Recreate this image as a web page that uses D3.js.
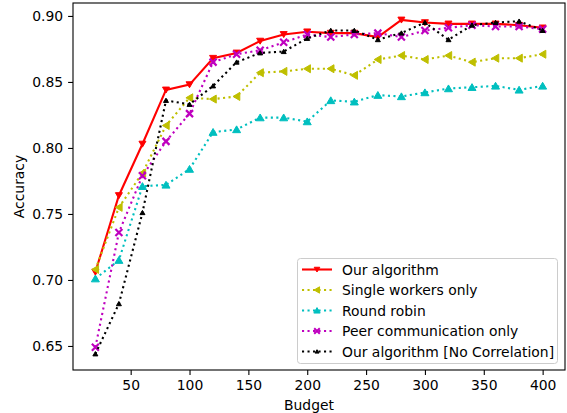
<!DOCTYPE html>
<html><head><meta charset="utf-8">
<script src="https://cdn.jsdelivr.net/npm/d3@7"></script>
<style>body{margin:0;background:#fff}svg{display:block}text{font-family:"DejaVu Sans",sans-serif}</style>
</head><body><svg id="c" width="567" height="413"></svg>
<script>
const budgets = [20,40,60,80,100,120,140,160,180,200,220,240,260,280,300,320,340,360,380,400];
const ourAlgorithm = [0.706,0.764,0.803,0.844,0.848,0.868,0.872,0.881,0.886,0.888,0.887,0.887,0.884,0.897,0.895,0.894,0.894,0.894,0.893,0.891];
const singleWorkers = [0.708,0.755,0.781,0.817,0.838,0.837,0.839,0.857,0.858,0.860,0.860,0.855,0.867,0.870,0.867,0.870,0.865,0.868,0.868,0.871];
const roundRobin = [0.701,0.715,0.771,0.772,0.784,0.812,0.814,0.823,0.823,0.820,0.836,0.835,0.840,0.839,0.842,0.845,0.846,0.847,0.844,0.847];
const peerComm = [0.649,0.736,0.779,0.805,0.826,0.865,0.871,0.874,0.880,0.886,0.884,0.886,0.887,0.884,0.889,0.891,0.893,0.892,0.892,0.890];
const noCorrelation = [0.644,0.682,0.751,0.836,0.833,0.847,0.865,0.872,0.873,0.883,0.889,0.889,0.882,0.887,0.895,0.882,0.893,0.895,0.896,0.889];
const seriesNames = ["Our algorithm","Single workers only","Round robin","Peer communication only","Our algorithm [No Correlation]"];
const xTicks = [50,100,150,200,250,300,350,400];
const yTicks = [0.65,0.70,0.75,0.80,0.85,0.90];

const series = [
  {name:seriesNames[0], values:ourAlgorithm, color:"#ff0000", dash:null, marker:"v", size:7},
  {name:seriesNames[1], values:singleWorkers, color:"#bfbf00", dash:"2.1,3.4", marker:"<", size:8},
  {name:seriesNames[2], values:roundRobin, color:"#00bfbf", dash:"2.1,3.4", marker:"^", size:8},
  {name:seriesNames[3], values:peerComm, color:"#bf00bf", dash:"2.1,3.4", marker:"x", size:7},
  {name:seriesNames[4], values:noCorrelation, color:"#000000", dash:"2.1,3.4", marker:"^", size:5}
];

const L=73, R=565, T=3, B=370;
const x = d3.scaleLinear().domain([1,419]).range([L,R]);
const y = d3.scaleLinear().domain([0.6318,0.9098]).range([B,T]);
const svg = d3.select("#c");

svg.append("defs").append("clipPath").attr("id","pc").append("rect")
  .attr("x",L).attr("y",T).attr("width",R-L).attr("height",B-T);

function markerPath(type, s){
  const h=s/2;
  if(type==="v") return `M${-h},${-h*0.8}L${h},${-h*0.8}L0,${h*0.9}Z`;
  if(type==="^") return `M${-h},${h*0.8}L${h},${h*0.8}L0,${-h*0.9}Z`;
  if(type==="<") return `M${h*0.8},${-h}L${h*0.8},${h}L${-h*0.9},0Z`;
  if(type==="x") return `M${-h},${-h}L${h},${h}M${-h},${h}L${h},${-h}`;
}

const g = svg.append("g").attr("clip-path","url(#pc)");
const line = d3.line().x((d,i)=>x(budgets[i])).y(d=>y(d));
series.forEach(s=>{
  g.append("path").attr("d",line(s.values)).attr("fill","none")
    .attr("stroke",s.color).attr("stroke-width",2.1)
    .attr("stroke-dasharray",s.dash);
  g.selectAll(null).data(s.values).enter().append("path")
    .attr("transform",(d,i)=>`translate(${x(budgets[i])},${y(d)})`)
    .attr("d",markerPath(s.marker,s.size))
    .attr("fill",s.color).attr("stroke",s.color)
    .attr("stroke-width",s.marker==="x"?2.2:1);
});

const xa = svg.append("g").attr("transform",`translate(0,${B})`)
  .call(d3.axisBottom(x).tickValues(xTicks).tickSize(4.9).tickPadding(4.9).tickFormat(d3.format("d")));
const ya = svg.append("g").attr("transform",`translate(${L},0)`)
  .call(d3.axisLeft(y).tickValues(yTicks).tickSize(4.9).tickPadding(4.9).tickFormat(d3.format(".2f")));
[xa,ya].forEach(a=>{a.select(".domain").remove();a.selectAll("line").attr("stroke","#000").attr("stroke-width",1.1);
  a.selectAll("text").attr("font-size","13.9px").attr("fill","#000").attr("font-family","DejaVu Sans");});
svg.append("rect").attr("x",L).attr("y",T).attr("width",R-L).attr("height",B-T)
  .attr("fill","none").attr("stroke","#000").attr("stroke-width",1.1);

svg.append("text").attr("x",(L+R)/2-10).attr("y",410).attr("text-anchor","middle")
  .attr("font-size","13.9px").text("Budget");
svg.append("text").attr("transform",`translate(24,${(T+B)/2}) rotate(-90)`).attr("text-anchor","middle")
  .attr("font-size","13.9px").text("Accuracy");

const lg = svg.append("g");
lg.append("rect").attr("x",297.5).attr("y",258.5).attr("width",260).attr("height",105).attr("rx",3)
  .attr("fill","#fff").attr("fill-opacity",0.8).attr("stroke","#ccc").attr("stroke-width",1);
series.forEach((s,i)=>{
  const yy = 269.5 + i*20.5;
  lg.append("line").attr("x1",302).attr("x2",332).attr("y1",yy).attr("y2",yy)
    .attr("stroke",s.color).attr("stroke-width",2.1).attr("stroke-dasharray",s.dash);
  lg.append("path").attr("transform",`translate(317,${yy})`).attr("d",markerPath(s.marker,s.size*0.8))
    .attr("fill",s.color).attr("stroke",s.color).attr("stroke-width",s.marker==="x"?2:1);
  lg.append("text").attr("x",342).attr("y",yy+5).attr("font-size","13.9px").text(s.name);
});
</script></body></html>
